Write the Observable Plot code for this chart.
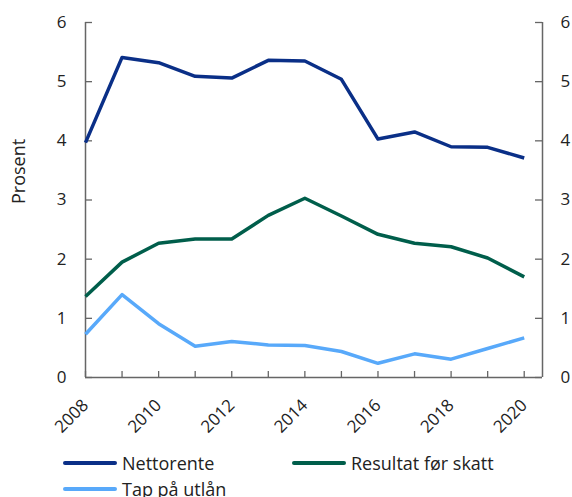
<!DOCTYPE html>
<html>
<head>
<meta charset="utf-8">
<script src="https://cdn.jsdelivr.net/npm/d3@7"></script>
<script src="https://cdn.jsdelivr.net/npm/@observablehq/plot@0.6"></script>
<style>
  body { margin: 0; background: #fff; font-family: "Open Sans", sans-serif; }
  #legend { position: relative; height: 57px; font-size: 18px; color: #222; }
  .item { position: absolute; display: flex; align-items: center; white-space: nowrap; }
  .sw { width: 54px; height: 4px; border-radius: 2px; margin-right: 5px; }
</style>
</head>
<body>
<div id="chart"></div>
<div id="legend"></div>
<script>
const years = [2008,2009,2010,2011,2012,2013,2014,2015,2016,2017,2018,2019,2020];
const nettorente = [3.97,5.41,5.32,5.09,5.06,5.36,5.35,5.04,4.03,4.15,3.90,3.89,3.71];
const resultat = [1.37,1.95,2.27,2.34,2.34,2.74,3.03,2.73,2.42,2.27,2.21,2.02,1.70];
const tap = [0.73,1.40,0.91,0.53,0.61,0.55,0.54,0.44,0.24,0.40,0.31,0.49,0.67];
const seriesNames = ["Nettorente","Resultat før skatt","Tap på utlån"];
const seriesColors = ["#0a2f87","#005e4b","#58a9fa"];
const xTickLabels = [2008,2010,2012,2014,2016,2018,2020];
const yTicks = [0,1,2,3,4,5,6];
const xDomain = [2008, 2020.5];
const yDomain = [0, 6];
const yLabel = "Prosent";

const data = [];
[nettorente, resultat, tap].forEach((vals, i) => {
  vals.forEach((v, j) => data.push({year: years[j], value: v, series: seriesNames[i]}));
});

const W = 572, H = 440, mL = 85, mR = 30, mT = 22, mB = 63;
const plotW = W - mL - mR, plotH = H - mT - mB;
const axisColor = "#666";

const chart = Plot.plot({
  width: W, height: H,
  marginLeft: mL, marginRight: mR, marginTop: mT, marginBottom: mB,
  style: {fontFamily: "Open Sans", fontSize: "17px", color: "#222", background: "#fff"},
  x: {domain: xDomain, axis: null},
  y: {domain: yDomain, axis: null},
  color: {domain: seriesNames, range: seriesColors},
  marks: [
    Plot.axisY(yTicks, {anchor: "left", label: null, tickSize: 0, tickPadding: 19, tickFormat: d => String(d), fill: "#222", fontSize: 17}),
    Plot.axisY(yTicks, {anchor: "right", label: null, tickSize: 0, tickPadding: 18, tickFormat: d => String(d), fill: "#222", fontSize: 17}),
    Plot.axisX(xTickLabels, {anchor: "bottom", label: null, tickSize: 0, tickPadding: 25, tickRotate: -45, tickFormat: d => String(d), fill: "#222", fontSize: 17}),
    Plot.tickY(yTicks, {y: d => d, insetRight: plotW - 7, stroke: axisColor, strokeWidth: 1.3}),
    Plot.tickY(yTicks, {y: d => d, insetLeft: plotW - 7, stroke: axisColor, strokeWidth: 1.3}),
    Plot.tickX(years, {x: d => d, insetTop: plotH - 6, stroke: axisColor, strokeWidth: 1.3}),
    Plot.ruleX([xDomain[0]], {stroke: axisColor, strokeWidth: 1.5}),
    Plot.ruleX([xDomain[1]], {stroke: axisColor, strokeWidth: 1.5}),
    Plot.ruleY([yDomain[0]], {stroke: axisColor, strokeWidth: 1.5}),
    Plot.line(data, {x: "year", y: "value", z: "series", stroke: "series", strokeWidth: 3.5, strokeLinejoin: "round", strokeLinecap: "butt"}),
    Plot.text([yLabel], {frameAnchor: "left", rotate: -90, dx: -66, dy: 4, fontSize: 18, fill: "#222"})
  ]
});
document.getElementById("chart").appendChild(chart);

const legend = document.getElementById("legend");
const pos = [[63, 23], [292, 23], [63, 49]];
seriesNames.forEach((name, i) => {
  const it = document.createElement("div");
  it.className = "item";
  it.style.left = pos[i][0] + "px";
  it.style.top = (pos[i][1] - 13) + "px";
  it.style.height = "26px";
  const sw = document.createElement("span");
  sw.className = "sw";
  sw.style.background = seriesColors[i];
  const tx = document.createElement("span");
  tx.textContent = name;
  it.appendChild(sw); it.appendChild(tx);
  legend.appendChild(it);
});
</script>
</body>
</html>
